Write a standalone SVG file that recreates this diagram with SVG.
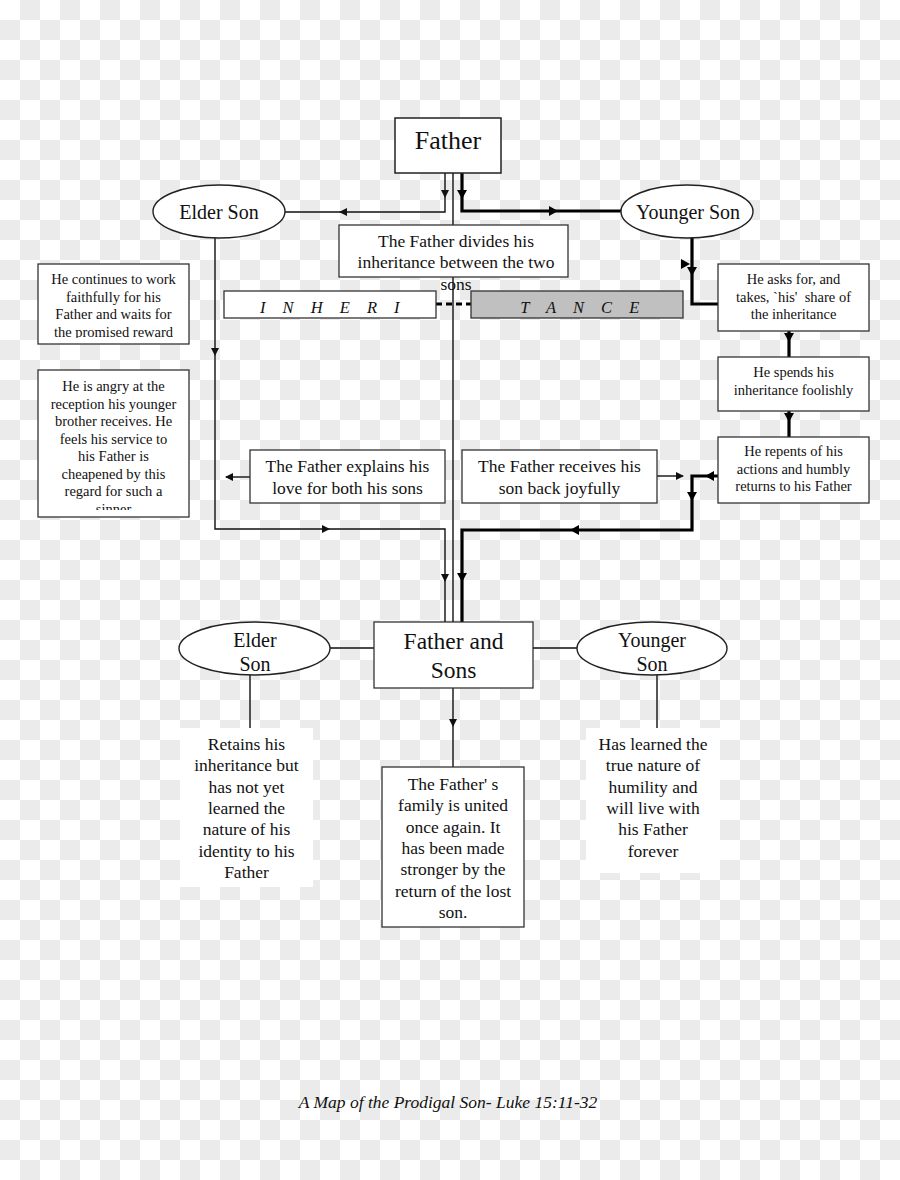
<svg xmlns="http://www.w3.org/2000/svg" xmlns:xlink="http://www.w3.org/1999/xlink" width="900" height="1180" viewBox="0 0 900 1180">
<style>
.t{font-family:"Liberation Serif","Times New Roman",serif;fill:#111;text-anchor:middle}
.s{font-size:14.5px}
.m{font-size:17.5px}
.box{fill:#fff;stroke:#333;stroke-width:1.3}
.thin{fill:none;stroke:#111;stroke-width:1.4}
.thick{fill:none;stroke:#000;stroke-width:3.2}
.it{font-style:italic}
</style>
<defs>
<pattern id="chk" width="40" height="40" patternUnits="userSpaceOnUse">
<rect width="40" height="40" fill="#fff"/>
<rect x="20" y="0" width="20" height="20" fill="#ebebeb"/>
<rect x="0" y="20" width="20" height="20" fill="#ebebeb"/>
</pattern>
<path id="ah" d="M0,0 L-8,-4 L-8,4 Z" fill="#111"/>
<path id="ahk" d="M0,0 L-9,-5 L-9,5 Z" fill="#000"/>
<clipPath id="c1"><rect x="38" y="264" width="151" height="74"/></clipPath>
<clipPath id="c2"><rect x="38" y="370" width="151" height="140"/></clipPath>
</defs>
<rect width="900" height="1180" fill="url(#chk)"/>

<g id="connectors">
<path class="thin" d="M445,173 V212 H285"/>
<use href="#ah" transform="translate(445,198) rotate(90)"/>
<use href="#ah" transform="translate(339,212) rotate(180)"/>
<path class="thin" d="M453,173 V622"/>
<path class="thick" d="M462,173 V211 H621"/>
<use href="#ahk" transform="translate(462,199) rotate(90)"/>
<use href="#ahk" transform="translate(558,211)"/>
<path class="thick" d="M692,238 V304 H718"/>
<use href="#ahk" transform="translate(690,264)"/>
<use href="#ahk" transform="translate(692,276) rotate(90)"/>
<path class="thick" d="M789,331 V357"/>
<use href="#ahk" transform="translate(789,342) rotate(90)"/>
<path class="thick" d="M789,411 V437"/>
<use href="#ahk" transform="translate(789,422) rotate(90)"/>
<path class="thick" d="M718,476 H692 V530 H462 V622"/>
<use href="#ahk" transform="translate(705,476) rotate(180)"/>
<use href="#ahk" transform="translate(692,501) rotate(90)"/>
<use href="#ahk" transform="translate(570,530) rotate(180)"/>
<use href="#ahk" transform="translate(462,582) rotate(90)"/>
<path class="thin" d="M657,476 H683"/>
<use href="#ah" transform="translate(684,476)"/>
<path class="thin" d="M250,477 H226"/>
<use href="#ah" transform="translate(225,477) rotate(180)"/>
<path class="thin" d="M215,238 V529 H445 V622"/>
<use href="#ah" transform="translate(215,356) rotate(90)"/>
<use href="#ah" transform="translate(330,529)"/>
<use href="#ah" transform="translate(445,582) rotate(90)"/>
<path d="M436,304 H471" fill="none" stroke="#000" stroke-width="3.2" stroke-dasharray="6,4"/>
<path class="thin" d="M330,648 H374 M533,648 H577"/>
<path class="thin" d="M250,675 V728 M657,675 V728"/>
<path class="thin" d="M453,688 V767"/>
<use href="#ah" transform="translate(453,727) rotate(90)"/>
</g>

<g id="father">
<rect x="395" y="118" width="106" height="55" fill="#fff" stroke="#222" stroke-width="1.5"/>
<text class="t" x="448" y="149" font-size="26">Father</text>
</g>

<g id="elder-son">
<ellipse cx="219" cy="211.5" rx="66" ry="26.5" fill="#fff" stroke="#222" stroke-width="1.4"/>
<text class="t" x="219" y="219" font-size="20">Elder Son</text>
</g>

<g id="younger-son">
<ellipse cx="687" cy="211.5" rx="66" ry="26.5" fill="#fff" stroke="#222" stroke-width="1.4"/>
<text class="t" x="688" y="219" font-size="20">Younger Son</text>
</g>

<g id="divides">
<rect class="box" x="339" y="225" width="229" height="52"/>
<text class="t m" x="456" y="246.5">The Father divides his</text>
<text class="t m" x="456" y="268">inheritance between the two</text>
<text class="t m" x="456" y="289.5">sons</text>
</g>

<g id="inheri">
<rect class="box" x="224" y="291" width="212" height="27"/>
<text class="t it" x="333" y="313" font-size="16.5" letter-spacing="6.5">I N H E R I</text>
</g>

<g id="tance">
<rect x="471" y="291" width="212" height="27" fill="#c0c0c0" stroke="#333" stroke-width="1.3"/>
<text class="t it" x="583" y="313" font-size="16.5" letter-spacing="6.5">T A N C E</text>
</g>

<g id="continues">
<rect class="box" x="38" y="264" width="151" height="80"/>
<g clip-path="url(#c1)">
<text class="t s" x="113.5" y="284">He continues to work</text>
<text class="t s" x="113.5" y="301.5">faithfully for his</text>
<text class="t s" x="113.5" y="319">Father and waits for</text>
<text class="t s" x="113.5" y="336.5">the promised reward</text>
</g>
</g>

<g id="angry">
<rect class="box" x="38" y="370" width="151" height="147"/>
<g clip-path="url(#c2)">
<text class="t s" x="113.5" y="391">He is angry at the</text>
<text class="t s" x="113.5" y="408.5">reception his younger</text>
<text class="t s" x="113.5" y="426">brother receives. He</text>
<text class="t s" x="113.5" y="443.5">feels his service to</text>
<text class="t s" x="113.5" y="461">his Father is</text>
<text class="t s" x="113.5" y="478.5">cheapened by this</text>
<text class="t s" x="113.5" y="496">regard for such a</text>
<text class="t s" x="113.5" y="513.5">sinner</text>
</g>
</g>

<g id="asks">
<rect class="box" x="718" y="264" width="151" height="67"/>
<text class="t s" x="793.5" y="284">He asks for, and</text>
<text class="t s" x="793.5" y="301.5" style="white-space:pre">takes, `his'  share of</text>
<text class="t s" x="793.5" y="319">the inheritance</text>
</g>

<g id="spends">
<rect class="box" x="718" y="357" width="151" height="54"/>
<text class="t s" x="793.5" y="377">He spends his</text>
<text class="t s" x="793.5" y="394.5">inheritance foolishly</text>
</g>

<g id="repents">
<rect class="box" x="718" y="437" width="151" height="66"/>
<text class="t s" x="793.5" y="456">He repents of his</text>
<text class="t s" x="793.5" y="473.5">actions and humbly</text>
<text class="t s" x="793.5" y="491">returns to his Father</text>
</g>

<g id="explains">
<rect class="box" x="250" y="450" width="195" height="53"/>
<text class="t m" x="347.5" y="472">The Father explains his</text>
<text class="t m" x="347.5" y="494">love for both his sons</text>
</g>

<g id="receives">
<rect class="box" x="462" y="450" width="195" height="53"/>
<text class="t m" x="559.5" y="472">The Father receives his</text>
<text class="t m" x="559.5" y="494">son back joyfully</text>
</g>

<g id="father-and-sons">
<rect class="box" x="374" y="622" width="159" height="66" stroke-width="1.4"/>
<text class="t" x="453.5" y="649" font-size="23.5">Father and</text>
<text class="t" x="453.5" y="678" font-size="23.5">Sons</text>
</g>

<g id="elder-son-2">
<ellipse cx="254.5" cy="648.5" rx="75.5" ry="26.5" fill="#fff" stroke="#222" stroke-width="1.4"/>
<text class="t" x="255" y="647" font-size="20">Elder</text>
<text class="t" x="255" y="671" font-size="20">Son</text>
</g>

<g id="younger-son-2">
<ellipse cx="652" cy="648.5" rx="75" ry="26.5" fill="#fff" stroke="#222" stroke-width="1.4"/>
<text class="t" x="652" y="647" font-size="20">Younger</text>
<text class="t" x="652" y="671" font-size="20">Son</text>
</g>

<g id="retains">
<rect x="180" y="728" width="133" height="159" fill="#fff"/>
<text class="t m" x="246.5" y="750">Retains his</text>
<text class="t m" x="246.5" y="771.3">inheritance but</text>
<text class="t m" x="246.5" y="792.6">has not yet</text>
<text class="t m" x="246.5" y="814">learned the</text>
<text class="t m" x="246.5" y="835.3">nature of his</text>
<text class="t m" x="246.5" y="856.6">identity to his</text>
<text class="t m" x="246.5" y="878">Father</text>
</g>

<g id="united">
<rect class="box" x="382" y="767" width="142" height="160"/>
<text class="t m" x="453" y="790">The Father' s</text>
<text class="t m" x="453" y="811.3">family is united</text>
<text class="t m" x="453" y="832.6">once again. It</text>
<text class="t m" x="453" y="854">has been made</text>
<text class="t m" x="453" y="875.3">stronger by the</text>
<text class="t m" x="453" y="896.6">return of the lost</text>
<text class="t m" x="453" y="918">son.</text>
</g>

<g id="learned">
<rect x="586" y="728" width="134" height="145" fill="#fff"/>
<text class="t m" x="653" y="750">Has learned the</text>
<text class="t m" x="653" y="771.3">true nature of</text>
<text class="t m" x="653" y="792.6">humility and</text>
<text class="t m" x="653" y="814">will live with</text>
<text class="t m" x="653" y="835.3">his Father</text>
<text class="t m" x="653" y="856.6">forever</text>
</g>

<g id="caption">
<text class="t it" x="448" y="1108" font-size="17.5">A Map of the Prodigal Son- Luke 15:11-32</text>
</g>
</svg>
